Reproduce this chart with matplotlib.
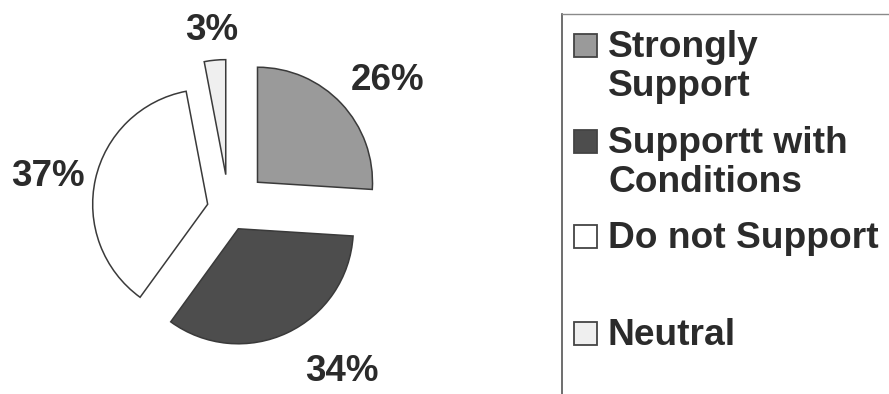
import matplotlib
matplotlib.use("Agg")
import matplotlib.pyplot as plt
from matplotlib.patches import Rectangle
from matplotlib.lines import Line2D
import numpy as np

# Survey responses (percent)
categories = ["Strongly\nSupport", "Supportt with\nConditions", "Do not Support", "Neutral"]
values = [26, 34, 37, 3]
colors = ["#9a9a9a", "#4d4d4d", "#ffffff", "#efefef"]
explode = [0.34, 0.19, 0.19, 0.30]

W, H, DPI = 889, 394, 100
R = 115.0            # pie radius in pixels
CX, CY = 229.0, 209.0  # pie centre in pixels (from top-left)
TEXT = "#2b2b2b"
EDGE = "#3a3a3a"
FONT = "Liberation Sans"

fig = plt.figure(figsize=(W / DPI, H / DPI), dpi=DPI)
fig.patch.set_facecolor("white")

# --- pie ---------------------------------------------------------------
pw = 470
ax = fig.add_axes([0, 0, pw / W, 1])
wedges, _ = ax.pie(values, colors=colors, explode=explode, startangle=90,
                   counterclock=False, radius=1.0,
                   wedgeprops=dict(edgecolor=EDGE, linewidth=1.1))
ax.set_aspect("auto")
ax.set_xlim(-CX / R, (pw - CX) / R)
ax.set_ylim(-(H - CY) / R, CY / R)
ax.set_axis_off()

# label offsets from each wedge's apex (radius units, baseline anchored)
label_offsets = [(1.13, 0.80), (0.90, -1.32), (-1.39, 0.16), (-0.12, 1.17)]
for w, v, (dx, dy) in zip(wedges, values, label_offsets):
    cx, cy = w.center
    ax.text(cx + dx, cy + dy, f"{v}%", ha="center", va="baseline",
            fontsize=26.5, fontweight="bold", color=TEXT, family=FONT)

# --- legend ------------------------------------------------------------
lg = fig.add_axes([0, 0, 1, 1])
lg.set_xlim(0, W)
lg.set_ylim(H, 0)
lg.set_axis_off()
lg.patch.set_alpha(0)

lg.add_line(Line2D([562, 562], [14, H], color="#555555", lw=1.2))
lg.add_line(Line2D([562, W], [14, 14], color="#8a8a8a", lw=1.0))

entry_baselines = [57, 153, 248, 345]
line_pitch = 38.5
for lab, col, yb in zip(categories, colors, entry_baselines):
    lg.add_patch(Rectangle((573.5, yb - 23), 23.5, 23, facecolor=col,
                           edgecolor="#444444", linewidth=1.3))
    for j, line in enumerate(lab.split("\n")):
        lg.text(608, yb + j * line_pitch, line, ha="left", va="baseline",
                fontsize=26.7, fontweight="bold", color=TEXT, family=FONT)

fig.savefig("out.png", dpi=DPI, facecolor="white")
